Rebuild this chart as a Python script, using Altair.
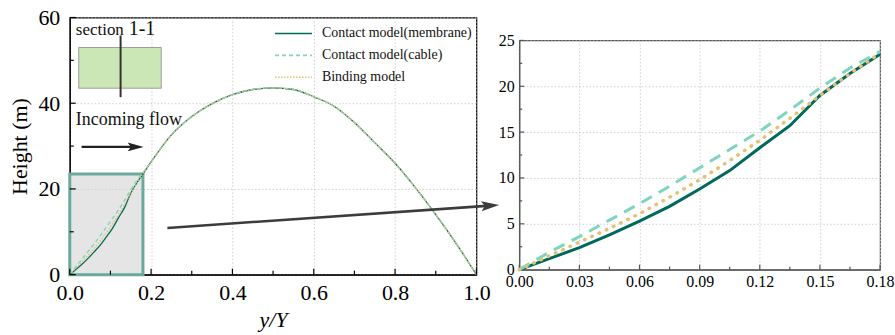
import altair as alt
import pandas as pd

FONT = "Liberation Serif"

# ---------------- data ----------------
series_names = ["Contact model(membrane)", "Contact model(cable)", "Binding model"]
series_colors = ["#00695c", "#7fd4c0", "#e6c070"]

x_near = [0, 0.015, 0.03, 0.045, 0.06, 0.075, 0.09, 0.105, 0.12, 0.135, 0.15, 0.165, 0.18]
h_membrane = [0, 1.2, 2.4, 3.8, 5.3, 6.9, 8.8, 10.8, 13.3, 15.7, 19.0, 21.4, 23.5]
h_cable = [0, 1.9, 3.6, 5.4, 7.2, 9.1, 11.1, 13.1, 15.1, 17.4, 19.8, 22.0, 23.8]
h_binding = [0, 1.5, 3.0, 4.5, 6.1, 7.9, 9.8, 11.9, 14.1, 16.5, 19.0, 21.4, 23.6]

x_far = [0.2, 0.25, 0.3, 0.35, 0.4, 0.45, 0.5, 0.55, 0.6, 0.65, 0.7, 0.75, 0.8, 0.85, 0.9, 0.95, 1.0]
h_far = [26.3, 32.6, 36.9, 39.9, 42.0, 43.2, 43.6, 43.2, 41.5, 39.3, 35.5, 30.8, 26.0, 20.3, 14.0, 7.3, 0.0]

series_heights = [h_membrane, h_cable, h_binding]

left_x_major = [0.0, 0.2, 0.4, 0.6, 0.8, 1.0]
left_x_minor = [0.1, 0.3, 0.5, 0.7, 0.9]
left_y_major = [0, 20, 40, 60]
left_y_minor = [10, 30, 50]
right_x_major = [0.0, 0.03, 0.06, 0.09, 0.12, 0.15, 0.18]
right_x_minor = [0.015, 0.045, 0.075, 0.105, 0.135, 0.165]
right_y_major = [0, 5, 10, 15, 20, 25]
right_y_minor = [2.5, 7.5, 12.5, 17.5, 22.5]

zoom_box_x = [0.0, 0.18]
zoom_box_y = [0.0, 23.5]

# annotation anchors (left panel data coordinates)
inset_rect_x = [0.022, 0.225]
inset_rect_y = [43.5, 53.0]
section_line_x = 0.125
section_line_y = [41.4, 55.8]
section_text = ["section", "1-1"]
section_text_x = [0.015, 0.145]
section_text_y = 55.8
flow_text = "Incoming flow"
flow_text_xy = [0.015, 34.9]
flow_arrow_x = [0.029, 0.162]
flow_arrow_y = 29.8
zoom_arrow_x = [0.240, 1.034]
zoom_arrow_y = [10.9, 16.1]

HEAD = "M-1,-0.55L1,0L-1,0.55L-0.6,0Z"

W1, H1 = 408, 258
W2, H2 = 362, 230


def make_axis(**kw):
    base = dict(labelFont=FONT, labelColor="black", titleFont=FONT, titleColor="black",
                titleFontWeight="normal", ticks=False, tickSize=0, grid=True,
                gridColor="#c4c4c4", gridDash=[1.5, 2], gridWidth=0.8, domain=True,
                labelFlush=False)
    base.update(kw)
    return alt.Axis(**base)


# ---------------- left panel ----------------
xs1 = alt.Scale(domain=[0, 1], nice=False, zero=False)
ys1 = alt.Scale(domain=[0, 60], nice=False)
ax_x1 = make_axis(values=left_x_major, format=".1f", labelFontSize=22, labelPadding=8,
                  title="y/Y", titleFontSize=22, titleFontStyle="italic", titlePadding=6,
                  domainColor="black", domainWidth=1.2)
ax_y1 = make_axis(values=left_y_major, format="d", labelFontSize=22, labelPadding=10,
                  title="Height (m)", titleFontSize=22, titlePadding=6,
                  domainColor="black", domainWidth=1.2)


def X1(f):
    return alt.X(f, type="quantitative", scale=xs1, axis=ax_x1)


def Y1(f):
    return alt.Y(f, type="quantitative", scale=ys1, axis=ax_y1)


box_df = pd.DataFrame({"x0": [zoom_box_x[0]], "x1": [zoom_box_x[1]],
                       "y0": [zoom_box_y[0]], "y1": [zoom_box_y[1]]})
box = alt.Chart(box_df).mark_rect(fill="#cfcfcf", fillOpacity=0.55, stroke="#6aa99b",
                                  strokeWidth=3).encode(x=X1("x0"), x2="x1", y=Y1("y0"), y2="y1")

left_dash = [None, [4, 3], [1.5, 1.5]]
left_layers = [box]
for name, col, hs, dash in zip(series_names, series_colors, series_heights, left_dash):
    df = pd.DataFrame({"x": x_near + x_far, "h": hs + h_far})
    kw = dict(color=col, strokeWidth=1.3, interpolate="monotone")
    if dash:
        kw["strokeDash"] = dash
    left_layers.append(alt.Chart(df).mark_line(**kw).encode(x=X1("x"), y=Y1("h")))


def xticks(vals, length, X, H, color):
    return alt.Chart(pd.DataFrame({"v": vals})).mark_rule(color=color, strokeWidth=1.2).encode(
        x=X("v"), y=alt.value(H), y2=alt.value(H - length))


def yticks(vals, length, Y, color):
    return alt.Chart(pd.DataFrame({"v": vals})).mark_rule(color=color, strokeWidth=1.2).encode(
        y=Y("v"), x=alt.value(0), x2=alt.value(length))


left_layers += [
    xticks(left_x_major, 6, X1, H1, "black"),
    xticks(left_x_minor, 4, X1, H1, "black"),
    yticks(left_y_major, 6, Y1, "black"),
    yticks(left_y_minor, 4, Y1, "black"),
]

# inset sketch
inset_df = pd.DataFrame({"x0": [inset_rect_x[0]], "x1": [inset_rect_x[1]],
                         "y0": [inset_rect_y[0]], "y1": [inset_rect_y[1]]})
left_layers.append(alt.Chart(inset_df).mark_rect(fill="#cbe7b6", stroke="#8a8a8a", strokeWidth=0.8)
                   .encode(x=X1("x0"), x2="x1", y=Y1("y0"), y2="y1"))
sec_df = pd.DataFrame({"x": [section_line_x], "y0": [section_line_y[0]], "y1": [section_line_y[1]]})
left_layers.append(alt.Chart(sec_df).mark_rule(color="#333333", strokeWidth=2)
                   .encode(x=X1("x"), y=Y1("y0"), y2="y1"))
for t, tx, fs in zip(section_text, section_text_x, [17, 20]):
    left_layers.append(alt.Chart(pd.DataFrame({"x": [tx], "y": [section_text_y], "t": [t]}))
                       .mark_text(align="left", baseline="alphabetic", font=FONT, fontSize=fs, color="#111111")
                       .encode(x=X1("x"), y=Y1("y"), text="t:N"))
left_layers.append(alt.Chart(pd.DataFrame({"x": [flow_text_xy[0]], "y": [flow_text_xy[1]], "t": [flow_text]}))
                   .mark_text(align="left", baseline="alphabetic", font=FONT, fontSize=18, color="#111111")
                   .encode(x=X1("x"), y=Y1("y"), text="t:N"))

# arrows
flow_df = pd.DataFrame({"x0": [flow_arrow_x[0]], "x1": [flow_arrow_x[1]], "y": [flow_arrow_y]})
left_layers.append(alt.Chart(flow_df).mark_rule(color="#222222", strokeWidth=2.2)
                   .encode(x=X1("x0"), x2="x1", y=Y1("y")))
left_layers.append(alt.Chart(flow_df).mark_point(shape=HEAD, filled=True, size=256, color="#222222", opacity=1)
                   .encode(x=X1("x1"), y=Y1("y")))
zoom_df = pd.DataFrame({"x0": [zoom_arrow_x[0]], "x1": [zoom_arrow_x[1]],
                        "y0": [zoom_arrow_y[0]], "y1": [zoom_arrow_y[1]]})
left_layers.append(alt.Chart(zoom_df).mark_rule(color="#3c3c3c", strokeWidth=2.6, clip=False)
                   .encode(x=X1("x0"), y=Y1("y0"), x2="x1", y2="y1"))
left_layers.append(alt.Chart(zoom_df).mark_point(shape=HEAD, filled=True, size=324, color="#3c3c3c",
                                                 opacity=1, angle=356, clip=False)
                   .encode(x=X1("x1"), y=Y1("y1")))

# legend (manual)
for i, (name, col, dash) in enumerate(zip(series_names, series_colors, left_dash)):
    ly = 16 + 22 * i
    kw = dict(color=col, strokeWidth=1.6)
    if dash:
        kw["strokeDash"] = dash
    ldf = pd.DataFrame({"t": [name]})
    left_layers.append(alt.Chart(ldf).mark_rule(**kw).encode(
        x=alt.value(206), x2=alt.value(243), y=alt.value(ly)))
    left_layers.append(alt.Chart(ldf).mark_text(align="left", baseline="middle", font=FONT,
                                                fontSize=14, color="#111111").encode(
        x=alt.value(253), y=alt.value(ly), text="t:N"))

left = alt.layer(*left_layers).properties(
    width=W1, height=H1, view=alt.ViewBackground(stroke="black", strokeWidth=1.2))

# ---------------- right panel ----------------
xs2 = alt.Scale(domain=[0, 0.18], nice=False, zero=False)
ys2 = alt.Scale(domain=[0, 25], nice=False)
ax_x2 = make_axis(values=right_x_major, format=".2f", labelFontSize=16, labelPadding=4,
                  title=None, domainColor="#555555", domainWidth=1.2)
ax_y2 = make_axis(values=right_y_major, format="d", labelFontSize=16, labelPadding=5,
                  title=None, domainColor="#555555", domainWidth=1.2)


def X2(f):
    return alt.X(f, type="quantitative", scale=xs2, axis=ax_x2)


def Y2(f):
    return alt.Y(f, type="quantitative", scale=ys2, axis=ax_y2)


right_layers = [
    xticks(right_x_major, 5, X2, H2, "#555555"),
    xticks(right_x_minor, 3, X2, H2, "#555555"),
    yticks(right_y_major, 5, Y2, "#555555"),
    yticks(right_y_minor, 3, Y2, "#555555"),
]
right_styles = [
    dict(strokeWidth=3),
    dict(strokeWidth=3, strokeDash=[12, 8]),
    dict(strokeWidth=3.5, strokeDash=[0.5, 7.5], strokeCap="round"),
]
for name, col, hs, st in zip(series_names, series_colors, series_heights, right_styles):
    df = pd.DataFrame({"x": x_near, "h": hs})
    right_layers.append(alt.Chart(df).mark_line(color=col, **st).encode(x=X2("x"), y=Y2("h")))

right = alt.layer(*right_layers).properties(
    width=W2, height=H2, view=alt.ViewBackground(stroke="#555555", strokeWidth=1.2))

spacer = alt.Chart(pd.DataFrame({"a": [0]})).mark_point(opacity=0, size=1).encode(
    x=alt.value(0), y=alt.value(0)
).properties(width=W2, height=4, view=alt.ViewBackground(strokeOpacity=0))

right_col = alt.vconcat(spacer, right, spacing=10)

chart = alt.hconcat(left, right_col, spacing=-3).properties(
    padding={"left": 8, "top": 5, "right": 0, "bottom": 0}
).configure(font=FONT)

chart.save("out.html", embed_options={"renderer": "svg", "actions": False})
